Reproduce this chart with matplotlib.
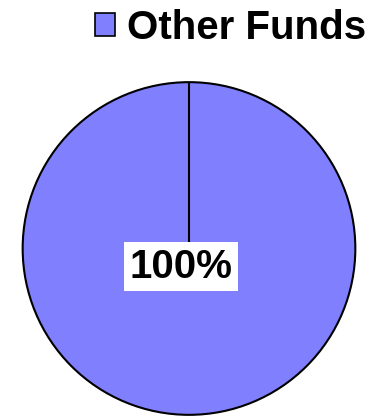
import matplotlib
matplotlib.use("Agg")
import matplotlib.pyplot as plt
from matplotlib.patches import Circle, Patch
import numpy as np

plt.rcParams['font.family'] = ['Liberation Sans', 'DejaVu Sans']

# Fund allocation
categories = ["Other Funds"]
shares = [100]
colors = ["#8080FF"]

fig = plt.figure(figsize=(3.72, 4.19), dpi=100)
ax = fig.add_axes([21 / 372, 2.5 / 419, 336 / 372, 336 / 419])

wedges, texts, autotexts = ax.pie(
    shares, colors=colors, startangle=90, counterclock=False,
    radius=1.0, autopct='%1.0f%%', pctdistance=0.1,
    wedgeprops=dict(edgecolor='none', linewidth=0),
    textprops=dict(fontsize=29, fontweight='bold', color='black'),
)

# Outline and start boundary of each slice
for w in wedges:
    cx, cy = w.center
    ax.add_patch(Circle((cx, cy), w.r, fill=False, edgecolor='black',
                        linewidth=1.5, zorder=3))
    th = np.deg2rad(w.theta1)
    ax.plot([cx, cx + w.r * np.cos(th)], [cy, cy + w.r * np.sin(th)],
            color='black', linewidth=1.5, zorder=3, solid_capstyle='butt')

for t in autotexts:
    x, y = t.get_position()
    t.set_position((x - 0.048, y - 0.01))
    t.set_bbox(dict(boxstyle='square,pad=0.14', facecolor='white',
                    edgecolor='none'))
    t.set_zorder(4)

ax.set_xlim(-1.01, 1.01)
ax.set_ylim(-1.01, 1.01)
ax.set_aspect('equal')
ax.axis('off')

handles = [Patch(facecolor=c, edgecolor='black', linewidth=1.2) for c in colors]
fig.legend(handles, categories, loc='upper right',
           bbox_to_anchor=(366 / 372, 1 - 9 / 419),
           frameon=False, borderpad=0, borderaxespad=0,
           handlelength=0.5, handleheight=0.52, handletextpad=0.3,
           prop=dict(family=['Liberation Sans', 'DejaVu Sans'],
                     size=29, weight='bold'))

fig.savefig("out.png", dpi=100)
